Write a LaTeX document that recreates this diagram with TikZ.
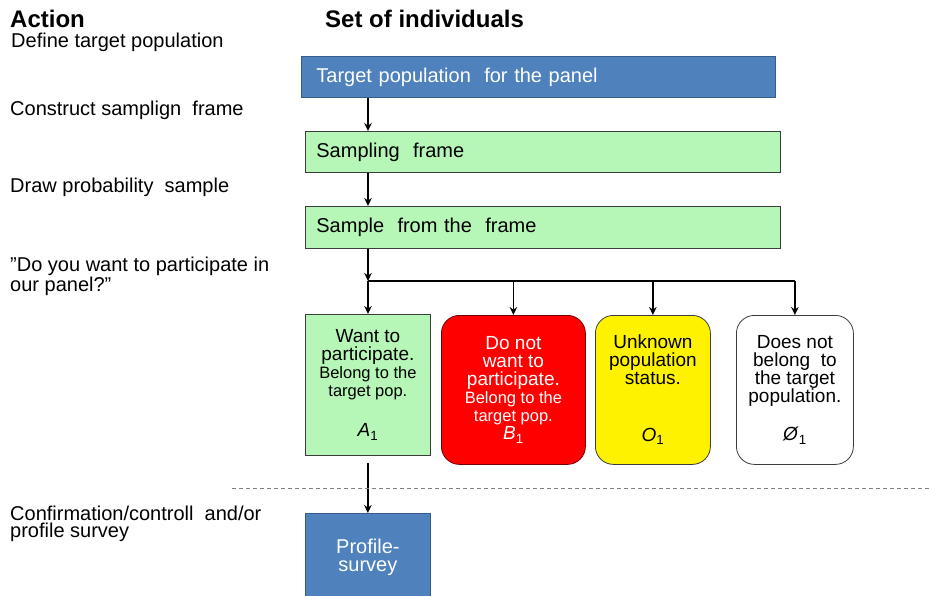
\documentclass[tikz,border=0pt]{standalone}
\usepackage{fontspec}
\setmainfont{Liberation Sans}
\usetikzlibrary{arrows.meta}
\definecolor{panelblue}{RGB}{79,129,189}
\definecolor{panelblueline}{RGB}{56,93,138}
\definecolor{framegreen}{RGB}{182,246,182}
\definecolor{boxline}{RGB}{60,60,60}
\newcommand\smalltxt{\fontsize{16.5}{18}\selectfont}
\tikzset{
>={Stealth[length=8pt,width=7.5pt]},
  actiontext/.style={
    anchor=north west,
    inner sep=0pt,
    align=left,
    font=\fontsize{20}{14}\selectfont},
  heading/.style={
    anchor=base west,
    inner sep=0pt,
    font=\bfseries\fontsize{24}{24}\selectfont},
  bar/.style={
    rectangle,
    anchor=north west,
    draw=boxline, line width=0.8pt,
    minimum height=41pt,
    inner xsep=11pt, inner ysep=0pt,
    align=left,
    font=\fontsize{20}{18}\selectfont},
  group/.style={
    rectangle,
    anchor=north west,
    draw=boxline, line width=0.8pt,
    rounded corners=18pt,
    minimum height=149pt,
    inner sep=0pt,
    align=center,
    font=\fontsize{19}{18}\selectfont},
  link/.style={draw, line width=1.3pt},
}

\begin{document}
\begin{tikzpicture}[x=1pt, y=-1pt]
     \useasboundingbox (0,0) rectangle (929,595);
     % headings
     \node[heading] (hdaction) at (10,27)  {Action};
     \node[heading] (hdset)    at (325,27) {Set of individuals};
     % actions
     \node[actiontext] (define)     at (11,33)    {Define target population};
     \node[actiontext] (construct)  at (10,101)   {Construct samplign\ \ frame};
     \node[actiontext] (drawsample) at (10,177.5) {Draw probability\ \ sample};
     \node[actiontext] (ask)        at (10,257)   {”Do you want to participate in\\our panel?”};
     \node[actiontext, font=\fontsize{20}{17}\selectfont] (confirm) at (10,505.5) {Confirmation/controll\ \ and/or\\profile survey};
     % individuals
     \node[bar, fill=panelblue, draw=panelblueline, text=white, inner xsep=15pt, text width=444pt] (target) at (301,56) {Target population\ \ for the panel};
     \node[bar, fill=framegreen, text width=453pt] (frame)  at (305,131) {Sampling\ \ frame};
     \node[bar, fill=framegreen, text width=453pt, minimum height=42pt] (sample) at (305,206) {Sample\ \ from the\ \ frame};
     \node[group, fill=framegreen, sharp corners, minimum width=125pt, minimum height=141pt] (want) at (305,314)
       {Want to\\participate.\\{\smalltxt Belong to the}\\{\smalltxt target pop.}\\[22pt]\textit{A}\textsubscript{1}};
     \node[group, fill=red, draw=black!55!red, text=white, minimum width=144pt] (refuse) at (441,315)
       {Do not\\want to\\participate.\\{\smalltxt Belong to the}\\{\smalltxt target pop.}\\\textit{B}\textsubscript{1}};
     \node[group, fill=yellow, minimum width=115pt] (unknown) at (595,315)
       {Unknown\\population\\status.\\[39pt]\textit{O}\textsubscript{1}};
     \node[group, fill=white, minimum width=117pt] (outside) at (736,315)
       {Does not\\belong\ \ to\\the target\\population.\\[20pt]\textit{Ø}\textsubscript{1}};
     \node[bar, fill=panelblue, draw=panelblueline, text=white, align=center, inner xsep=0pt, minimum width=125pt, minimum height=88pt] (profile) at (305,513) {Profile-\\survey};
     % connectors
     \coordinate (split) at (368,281);
     \draw[link, ->] (split |- target.south) -- (split |- frame.north);
     \draw[link, ->] (split |- frame.south) -- (split |- sample.north);
     \draw[link, ->] (split |- sample.south) -- (split);
     \draw[link] (split) -- (split -| outside.north);
     \draw[link, ->] (split) -- (split |- want.north);
     \foreach \grp in {refuse, unknown, outside}
       \draw[link, ->] (split -| \grp.north) -- (\grp.north);
     \draw[link, ->, shorten <=7pt] (want.south) -- (profile.north);
     \draw[gray, line width=1pt, dash pattern=on 4pt off 3pt] (232,488) -- (929,488);
\end{tikzpicture}
\end{document}
